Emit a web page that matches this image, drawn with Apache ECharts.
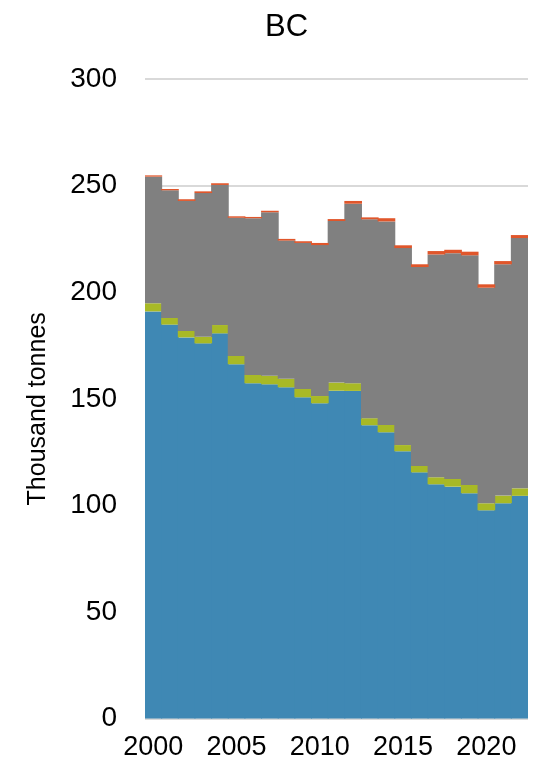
<!DOCTYPE html>
<html>
<head>
<meta charset="utf-8">
<script src="https://cdn.jsdelivr.net/npm/echarts@6/dist/echarts.min.js"></script>
<style>
html,body{margin:0;padding:0;background:#fff;}
#chart{width:543px;height:769px;}
</style>
</head>
<body>
<div id="chart"></div>
<script>
var years = ['2000','2001','2002','2003','2004','2005','2006','2007','2008','2009','2010','2011','2012','2013','2014','2015','2016','2017','2018','2019','2020','2021','2022'];
var seriesBlue = [191.0,184.8,178.8,176.0,180.7,166.2,157.3,156.8,155.4,150.7,147.9,153.8,153.7,137.6,134.3,125.4,115.5,109.9,108.8,105.7,97.7,101.0,104.5];
var seriesGreen = [3.8,3.1,3.0,3.1,3.9,3.9,3.9,4.0,4.0,3.9,3.4,3.8,3.6,3.3,3.4,2.9,3.0,3.3,3.6,3.9,3.3,3.6,3.5];
var seriesGray = [59.4,59.9,61.0,67.4,65.7,64.8,73.5,76.7,64.8,68.5,70.8,75.8,84.2,93.3,95.5,92.4,93.3,104.5,105.9,107.7,101.1,108.5,117.4];
var seriesOrange = [0.6,0.6,0.8,0.8,0.8,0.7,0.6,0.7,0.8,0.8,1.0,0.9,1.3,0.9,1.5,1.3,1.3,1.6,1.6,1.7,1.6,1.5,1.4];
var yTicks = {min:0, max:300, interval:50};

var FONT = 'Liberation Sans';
function band(name, data, color){
  return {
    name: name, type: 'bar', stack: 'total', data: data,
    barWidth: '106%', barGap: '-100%',
    itemStyle: {color: color},
    emphasis: {disabled: true},
    animation: false
  };
}
var chart = echarts.init(document.getElementById('chart'));
chart.setOption({
  animation: false,
  title: {
    text: 'BC', left: 260, top: 7,
    textStyle: {fontFamily: FONT, fontSize: 31, fontWeight: 'normal', color: '#000'}
  },
  grid: {left: 145, right: 15, top: 79, bottom: 50.4},
  xAxis: {
    type: 'category', data: years,
    axisLine: {show: false}, axisTick: {show: false},
    axisLabel: {interval: 4, fontFamily: FONT, fontSize: 27, color: '#000', margin: 15}
  },
  yAxis: {
    type: 'value', min: yTicks.min, max: yTicks.max, interval: yTicks.interval,
    name: 'Thousand tonnes', nameLocation: 'middle', nameGap: 94,
    nameTextStyle: {fontFamily: FONT, fontSize: 25, color: '#000', padding: [0, 20, 0, 0]},
    axisLine: {show: false}, axisTick: {show: false},
    axisLabel: {fontFamily: FONT, fontSize: 28, color: '#000', margin: 28},
    splitLine: {lineStyle: {color: '#d9d9d9', width: 2}}
  },
  series: [
    band('Blue', seriesBlue, '#3f88b4'),
    band('Green', seriesGreen, '#a8b926'),
    band('Gray', seriesGray, '#808080'),
    band('Orange', seriesOrange, '#e0562b')
  ]
});
</script>
</body>
</html>
